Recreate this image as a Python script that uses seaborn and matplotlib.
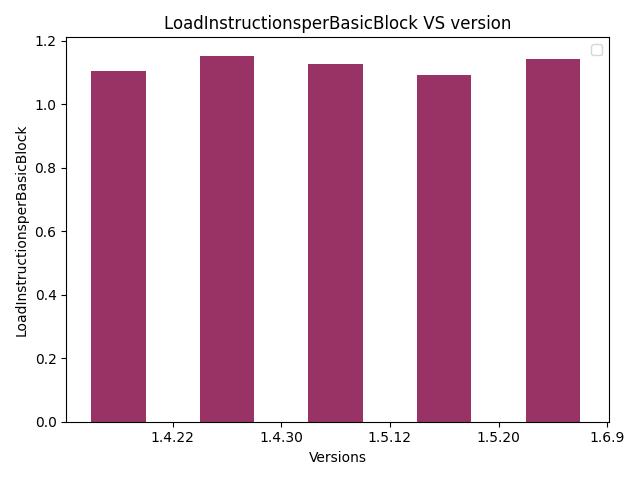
import matplotlib
matplotlib.use("Agg")
import matplotlib.pyplot as plt
import seaborn as sns
import numpy as np
import pandas as pd

versions = ["1.4.22", "1.4.30", "1.5.12", "1.5.20", "1.6.9"]
values = [1.105, 1.153, 1.128, 1.093, 1.143]

pos = np.arange(len(versions))
df = pd.DataFrame({"pos": pos, "val": values})
fig, ax = plt.subplots(figsize=(6.4, 4.8), dpi=100)
sns.barplot(data=df, x="pos", y="val", native_scale=True, width=0.5,
            color="#993366", saturation=1, ax=ax)
ax.set_xticks(pos + 0.5)
ax.set_xticklabels(versions)
ax.set_xlim(-0.48, 4.52)
ax.set_xlabel("Versions")
ax.set_ylabel("LoadInstructionsperBasicBlock")
ax.set_title("LoadInstructionsperBasicBlock VS version")
ax.legend(handles=[], loc="upper right")
fig.tight_layout()
fig.savefig("out.png", dpi=100)
